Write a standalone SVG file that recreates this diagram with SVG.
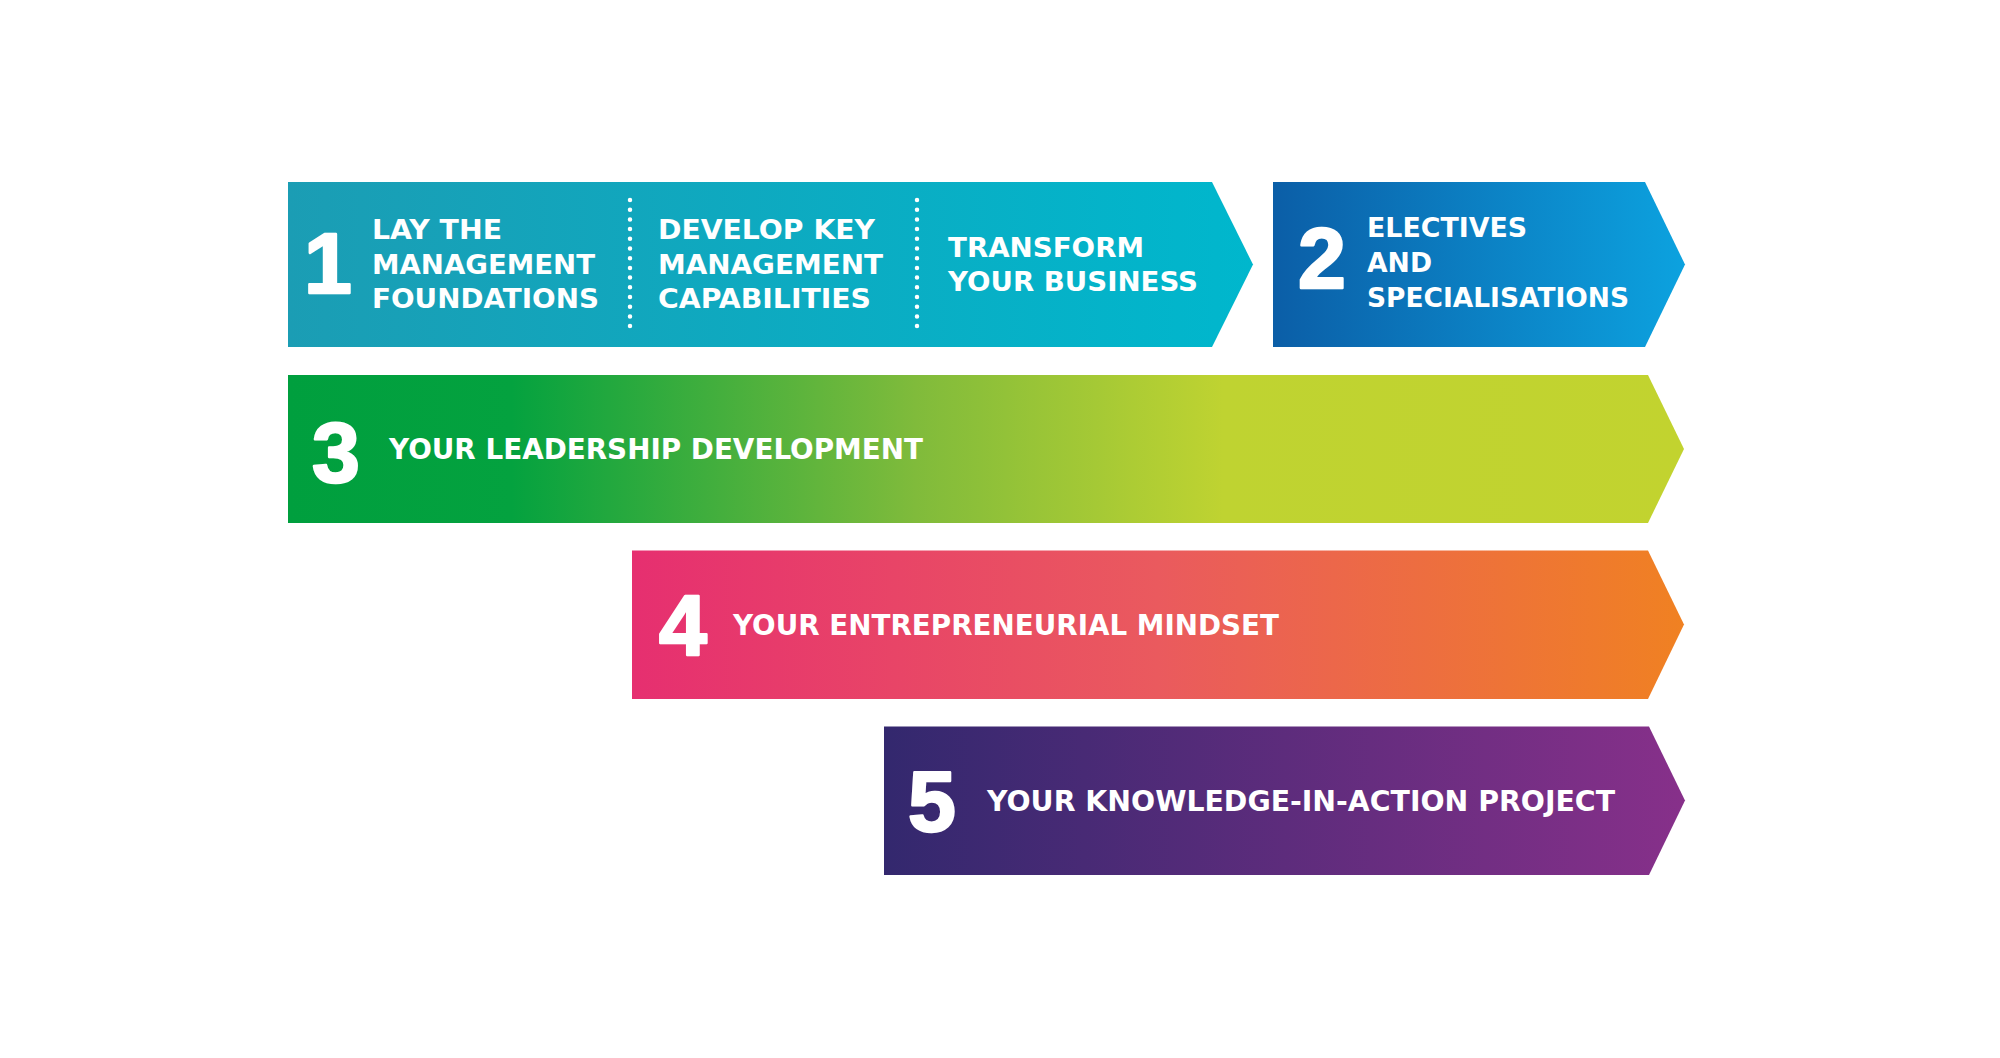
<svg xmlns="http://www.w3.org/2000/svg" width="2000" height="1058" viewBox="0 0 2000 1058">
<defs>
<linearGradient id="g1" x1="0" x2="1" y1="0" y2="0"><stop offset="0" stop-color="#1b9db4"/><stop offset="1" stop-color="#00b7cd"/></linearGradient>
<linearGradient id="g2" x1="0" x2="1" y1="0" y2="0"><stop offset="0" stop-color="#0b5ea7"/><stop offset="1" stop-color="#0ca2df"/></linearGradient>
<linearGradient id="g3" x1="0" x2="1" y1="0" y2="0"><stop offset="0" stop-color="#009f3e"/><stop offset="0.16" stop-color="#04a23f"/><stop offset="0.45" stop-color="#80bb3b"/><stop offset="0.67" stop-color="#bfd331"/><stop offset="1" stop-color="#c2d32f"/></linearGradient>
<linearGradient id="g4" x1="0" x2="1" y1="0" y2="0"><stop offset="0" stop-color="#e62f70"/><stop offset="0.5" stop-color="#ea5a5e"/><stop offset="1" stop-color="#f08122"/></linearGradient>
<linearGradient id="g5" x1="0" x2="1" y1="0" y2="0"><stop offset="0" stop-color="#33286e"/><stop offset="1" stop-color="#87308a"/></linearGradient>
</defs>
<style>
.t{font-family:"DejaVu Sans","Liberation Sans",sans-serif;font-weight:700;font-size:26px;fill:#fff}
.b{font-size:28px}
.n{font-family:"Liberation Sans",Arial,sans-serif;font-weight:700;font-size:86px;fill:#fff;stroke:#fff;stroke-width:2.5;stroke-linejoin:round;text-anchor:middle}
.dot{stroke:#fff;stroke-width:4.5;stroke-linecap:round;stroke-dasharray:0 9.7;fill:none}
</style>
<rect width="2000" height="1058" fill="#fff"/>
<g id="band1">
<path d="M288,182 H1212 L1253,264.5 L1212,347 H288 Z" fill="url(#g1)"/>
<text class="n" x="328" y="293">1</text>
<text class="t" x="372" y="239" textLength="130" lengthAdjust="spacingAndGlyphs">LAY THE</text>
<text class="t" x="372" y="274" textLength="223" lengthAdjust="spacingAndGlyphs">MANAGEMENT</text>
<text class="t" x="372" y="308" textLength="227" lengthAdjust="spacingAndGlyphs">FOUNDATIONS</text>
<line class="dot" x1="630" y1="200" x2="630" y2="327"/>
<text class="t" x="658" y="239" textLength="217" lengthAdjust="spacingAndGlyphs">DEVELOP KEY</text>
<text class="t" x="658" y="274" textLength="225" lengthAdjust="spacingAndGlyphs">MANAGEMENT</text>
<text class="t" x="658" y="308" textLength="213" lengthAdjust="spacingAndGlyphs">CAPABILITIES</text>
<line class="dot" x1="917" y1="200" x2="917" y2="327"/>
<text class="t" x="948" y="257" textLength="196" lengthAdjust="spacingAndGlyphs">TRANSFORM</text>
<text class="t" x="948" y="291" textLength="250" lengthAdjust="spacingAndGlyphs">YOUR BUSINESS</text>
</g>
<g id="band2">
<path d="M1273,182 H1645 L1685,264.5 L1645,347 H1273 Z" fill="url(#g2)"/>
<text class="n" x="1322" y="288">2</text>
<text class="t" x="1367" y="237" textLength="160" lengthAdjust="spacingAndGlyphs">ELECTIVES</text>
<text class="t" x="1367" y="272" textLength="65" lengthAdjust="spacingAndGlyphs">AND</text>
<text class="t" x="1367" y="307" textLength="262" lengthAdjust="spacingAndGlyphs">SPECIALISATIONS</text>
</g>
<g id="band3">
<path d="M288,375 H1648 L1684,449 L1648,523 H288 Z" fill="url(#g3)"/>
<text class="n" x="336" y="482">3</text>
<text class="t b" x="389" y="459" textLength="534" lengthAdjust="spacingAndGlyphs">YOUR LEADERSHIP DEVELOPMENT</text>
</g>
<g id="band4">
<path d="M632,550.5 H1648 L1684,624.5 L1648,699 H632 Z" fill="url(#g4)"/>
<text class="n" x="683" y="655">4</text>
<text class="t b" x="733" y="635" textLength="546" lengthAdjust="spacingAndGlyphs">YOUR ENTREPRENEURIAL MINDSET</text>
</g>
<g id="band5">
<path d="M884,726.5 H1649 L1685,800.5 L1649,875 H884 Z" fill="url(#g5)"/>
<text class="n" x="932" y="831">5</text>
<text class="t b" x="987" y="811" textLength="628" lengthAdjust="spacingAndGlyphs">YOUR KNOWLEDGE-IN-ACTION PROJECT</text>
</g>
<g id="connectors"/>
</svg>
